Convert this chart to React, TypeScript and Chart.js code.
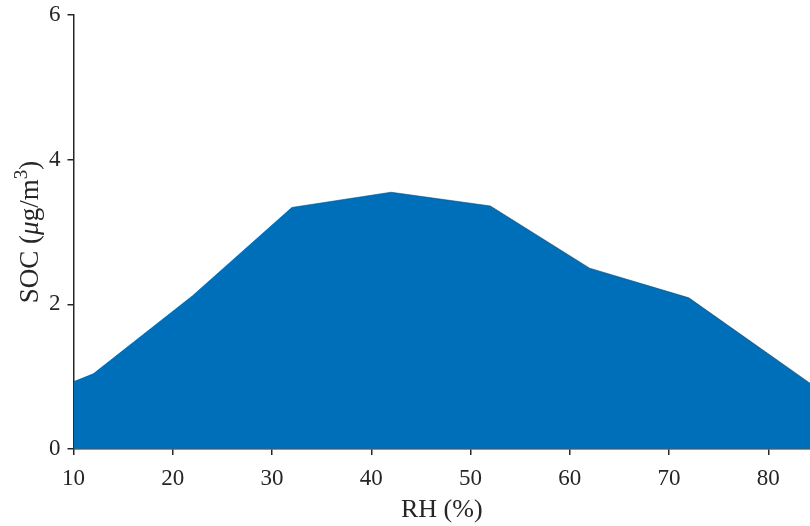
import React, { useEffect, useRef } from "react";
import { Chart, registerables } from "chart.js";

Chart.register(...registerables);

// Relative humidity (%) and SOC concentration (µg/m³)
const rhValues = [10, 12, 22, 32, 42, 52, 62, 72, 84.2];
const socValues = [0.93, 1.04, 2.12, 3.34, 3.55, 3.36, 2.5, 2.09, 0.91];
const xTicks = [10, 20, 30, 40, 50, 60, 70, 80];
const yTicks = [0, 2, 4, 6];

const AXIS_COLOR = "#262626";
const FILL_COLOR = "#006FBA";
const FONT = "'Liberation Serif', 'Times New Roman', serif";

// Rotated y-axis title with italic µ and superscript 3
const yTitlePlugin = {
  id: "yTitle",
  afterDraw(chart: any) {
    const { ctx, chartArea } = chart;
    const cy = (chartArea.top + chartArea.bottom) / 2;
    const cx = 30;
    const parts = [
      { t: "SOC (", font: `27px ${FONT}`, dy: 0 },
      { t: "\u03bc", font: `italic 27px ${FONT}`, dy: 0 },
      { t: "g/m", font: `27px ${FONT}`, dy: 0 },
      { t: "3", font: `19px ${FONT}`, dy: -11 },
      { t: ")", font: `27px ${FONT}`, dy: 0 },
    ];
    ctx.save();
    let total = 0;
    const widths = parts.map((p) => {
      ctx.font = p.font;
      const w = ctx.measureText(p.t).width;
      total += w;
      return w;
    });
    ctx.translate(cx, cy);
    ctx.rotate(-Math.PI / 2);
    ctx.fillStyle = AXIS_COLOR;
    ctx.textBaseline = "alphabetic";
    let x = -total / 2;
    parts.forEach((p, i) => {
      ctx.font = p.font;
      ctx.fillText(p.t, x, 8 + p.dy);
      x += widths[i];
    });
    ctx.restore();
  },
};

export default function App() {
  const canvasRef = useRef<HTMLCanvasElement | null>(null);

  useEffect(() => {
    if (!canvasRef.current) return;
    const chart = new Chart(canvasRef.current, {
      type: "line",
      data: {
        datasets: [
          {
            data: rhValues.map((x, i) => ({ x, y: socValues[i] })),
            fill: "origin",
            backgroundColor: FILL_COLOR,
            borderColor: "rgba(40,40,40,0.85)",
            borderWidth: 0.6,
            pointRadius: 0,
            tension: 0,
          },
        ],
      },
      plugins: [yTitlePlugin],
      options: {
        animation: false,
        responsive: false,
        maintainAspectRatio: false,
        layout: { padding: { top: 15, right: 0, left: 0, bottom: 0 } },
        plugins: {
          legend: { display: false },
          tooltip: { enabled: false },
        },
        scales: {
          x: {
            type: "linear",
            min: 10,
            max: 84.2,
            afterBuildTicks: (scale: any) => {
              scale.ticks = xTicks.map((v) => ({ value: v }));
            },
            afterFit: (scale: any) => {
              scale.height = 77;
              scale.paddingLeft = 0;
              scale.paddingRight = 0;
            },
            border: { display: true, color: AXIS_COLOR, width: 1.5 },
            grid: {
              drawOnChartArea: false,
              drawTicks: true,
              tickLength: 6,
              color: AXIS_COLOR,
              lineWidth: 1.5,
            },
            ticks: {
              color: AXIS_COLOR,
              font: { family: FONT, size: 23 },
              padding: 10,
              maxRotation: 0,
            },
            title: {
              display: true,
              text: "RH (%)",
              color: AXIS_COLOR,
              font: { family: FONT, size: 26 },
              padding: { top: 0, bottom: 0 },
            },
          },
          y: {
            type: "linear",
            min: 0,
            max: 6,
            afterBuildTicks: (scale: any) => {
              scale.ticks = yTicks.map((v) => ({ value: v }));
            },
            afterFit: (scale: any) => {
              scale.width = 73.5;
              scale.paddingTop = 0;
              scale.paddingBottom = 0;
            },
            border: { display: true, color: AXIS_COLOR, width: 1.5 },
            grid: {
              drawOnChartArea: false,
              drawTicks: true,
              tickLength: 6,
              color: AXIS_COLOR,
              lineWidth: 1.5,
            },
            ticks: {
              color: AXIS_COLOR,
              font: { family: FONT, size: 23 },
              padding: 7,
            },
          },
        },
      },
    });
    return () => chart.destroy();
  }, []);

  return (
    <div style={{ position: "fixed", left: 0, top: 0, width: 810, height: 526, background: "#fff" }}>
      <canvas ref={canvasRef} width={810} height={526} style={{ display: "block" }} />
    </div>
  );
}
